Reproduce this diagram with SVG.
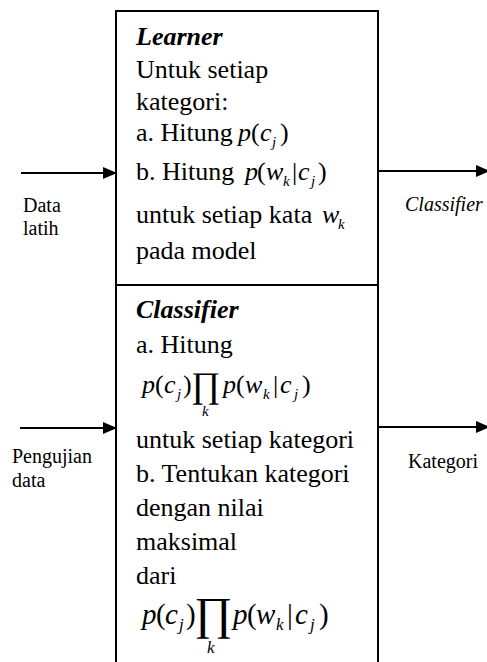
<svg xmlns="http://www.w3.org/2000/svg" width="487" height="662" viewBox="0 0 487 662">
<style>
.ln{stroke:#000;stroke-width:2;fill:none}
</style>
<defs>
<marker id="ah" markerWidth="14" markerHeight="12" refX="13" refY="6" orient="auto" markerUnits="userSpaceOnUse">
<path d="M0,0 L14,6 L0,12 Z" fill="#000"/>
</marker>
</defs>
<g id="box">
<path class="ln" d="M116,662 V11 H378 V662"/>
<line class="ln" x1="116" y1="285" x2="378" y2="285"/>
</g>
<g id="learner">
<text style="font-family:'Liberation Serif',serif" font-size="26" font-weight="bold" font-style="italic" x="136" y="45">Learner</text>
<text style="font-family:'Liberation Serif',serif" font-size="26" x="136" y="78">Untuk setiap</text>
<text style="font-family:'Liberation Serif',serif" font-size="26" x="136" y="110">kategori:</text>
<text style="font-family:'Liberation Serif',serif" font-size="26" x="136" y="141">a. Hitung</text>
<text style="font-family:'Liberation Serif',serif" font-size="26"><tspan font-style="italic" x="238" y="141">p</tspan><tspan x="251" y="141">(</tspan><tspan font-style="italic" x="260" y="141">c</tspan><tspan font-size="15" font-style="italic" x="272" y="147">j</tspan><tspan x="280" y="141">)</tspan></text>
<text style="font-family:'Liberation Serif',serif" font-size="26" x="136" y="180">b. Hitung</text>
<text style="font-family:'Liberation Serif',serif" font-size="26"><tspan font-style="italic" x="245" y="180">p</tspan><tspan x="257" y="180">(</tspan><tspan font-style="italic" x="266" y="180">w</tspan><tspan font-size="15" font-style="italic" x="283" y="186">k</tspan><tspan x="292" y="180">|</tspan><tspan font-style="italic" x="298" y="180">c</tspan><tspan font-size="15" font-style="italic" x="311" y="186">j</tspan><tspan x="318" y="180">)</tspan></text>
<text style="font-family:'Liberation Serif',serif" font-size="26" x="136" y="223">untuk setiap kata</text>
<text style="font-family:'Liberation Serif',serif" font-size="26"><tspan font-style="italic" x="322" y="223">w</tspan><tspan font-size="15" font-style="italic" x="338" y="229">k</tspan></text>
<text style="font-family:'Liberation Serif',serif" font-size="26" x="136" y="259">pada model</text>
</g>
<g id="classifier">
<text style="font-family:'Liberation Serif',serif" font-size="26" font-weight="bold" font-style="italic" x="136" y="318">Classifier</text>
<text style="font-family:'Liberation Serif',serif" font-size="26" x="136" y="353">a. Hitung</text>
<text style="font-family:'Liberation Serif',serif" font-size="26"><tspan font-style="italic" x="142" y="393">p</tspan><tspan x="155" y="393">(</tspan><tspan font-style="italic" x="164" y="393">c</tspan><tspan font-size="15" font-style="italic" x="177" y="399">j</tspan><tspan x="183" y="393">)</tspan><tspan x="191" y="397" font-size="36">∏</tspan><tspan font-style="italic" x="223" y="393">p</tspan><tspan x="236" y="393">(</tspan><tspan font-style="italic" x="245" y="393">w</tspan><tspan font-size="15" font-style="italic" x="263" y="399">k</tspan><tspan x="273" y="393">|</tspan><tspan font-style="italic" x="280" y="393">c</tspan><tspan font-size="15" font-style="italic" x="294" y="399">j</tspan><tspan x="302" y="393">)</tspan></text>
<text style="font-family:'Liberation Serif',serif" font-size="15" font-style="italic" x="202" y="416">k</text>
<text style="font-family:'Liberation Serif',serif" font-size="26" x="136" y="448">untuk setiap kategori</text>
<text style="font-family:'Liberation Serif',serif" font-size="26" x="136" y="482">b. Tentukan kategori</text>
<text style="font-family:'Liberation Serif',serif" font-size="26" x="136" y="516">dengan nilai</text>
<text style="font-family:'Liberation Serif',serif" font-size="26" x="136" y="550">maksimal</text>
<text style="font-family:'Liberation Serif',serif" font-size="26" x="136" y="584">dari</text>
<text style="font-family:'Liberation Serif',serif" font-size="29"><tspan font-style="italic" x="142" y="624">p</tspan><tspan x="156" y="624">(</tspan><tspan font-style="italic" x="165" y="624">c</tspan><tspan font-size="17" font-style="italic" x="179" y="630">j</tspan><tspan x="186" y="624">)</tspan><tspan x="194" y="629" font-size="46">∏</tspan><tspan font-style="italic" x="233" y="624">p</tspan><tspan x="247" y="624">(</tspan><tspan font-style="italic" x="256" y="624">w</tspan><tspan font-size="17" font-style="italic" x="276" y="630">k</tspan><tspan x="287" y="624">|</tspan><tspan font-style="italic" x="295" y="624">c</tspan><tspan font-size="17" font-style="italic" x="310" y="630">j</tspan><tspan x="319" y="624">)</tspan></text>
<text style="font-family:'Liberation Serif',serif" font-size="17" font-style="italic" x="207" y="653">k</text>
</g>
<g id="connectors">
<line class="ln" x1="21" y1="173" x2="116" y2="173" marker-end="url(#ah)"/>
<line class="ln" x1="20" y1="428" x2="116" y2="428" marker-end="url(#ah)"/>
<line class="ln" x1="378" y1="171" x2="489" y2="171" marker-end="url(#ah)"/>
<line class="ln" x1="378" y1="427" x2="489" y2="427" marker-end="url(#ah)"/>
</g>
<g id="labels">
<text style="font-family:'Liberation Serif',serif" font-size="20" x="23" y="212">Data</text>
<text style="font-family:'Liberation Serif',serif" font-size="20" x="23" y="235">latih</text>
<text style="font-family:'Liberation Serif',serif" font-size="20" x="12" y="463">Pengujian</text>
<text style="font-family:'Liberation Serif',serif" font-size="20" x="12" y="487">data</text>
<text style="font-family:'Liberation Serif',serif" font-size="20" font-style="italic" x="405" y="211">Classifier</text>
<text style="font-family:'Liberation Serif',serif" font-size="20" x="408" y="468">Kategori</text>
</g>
</svg>
